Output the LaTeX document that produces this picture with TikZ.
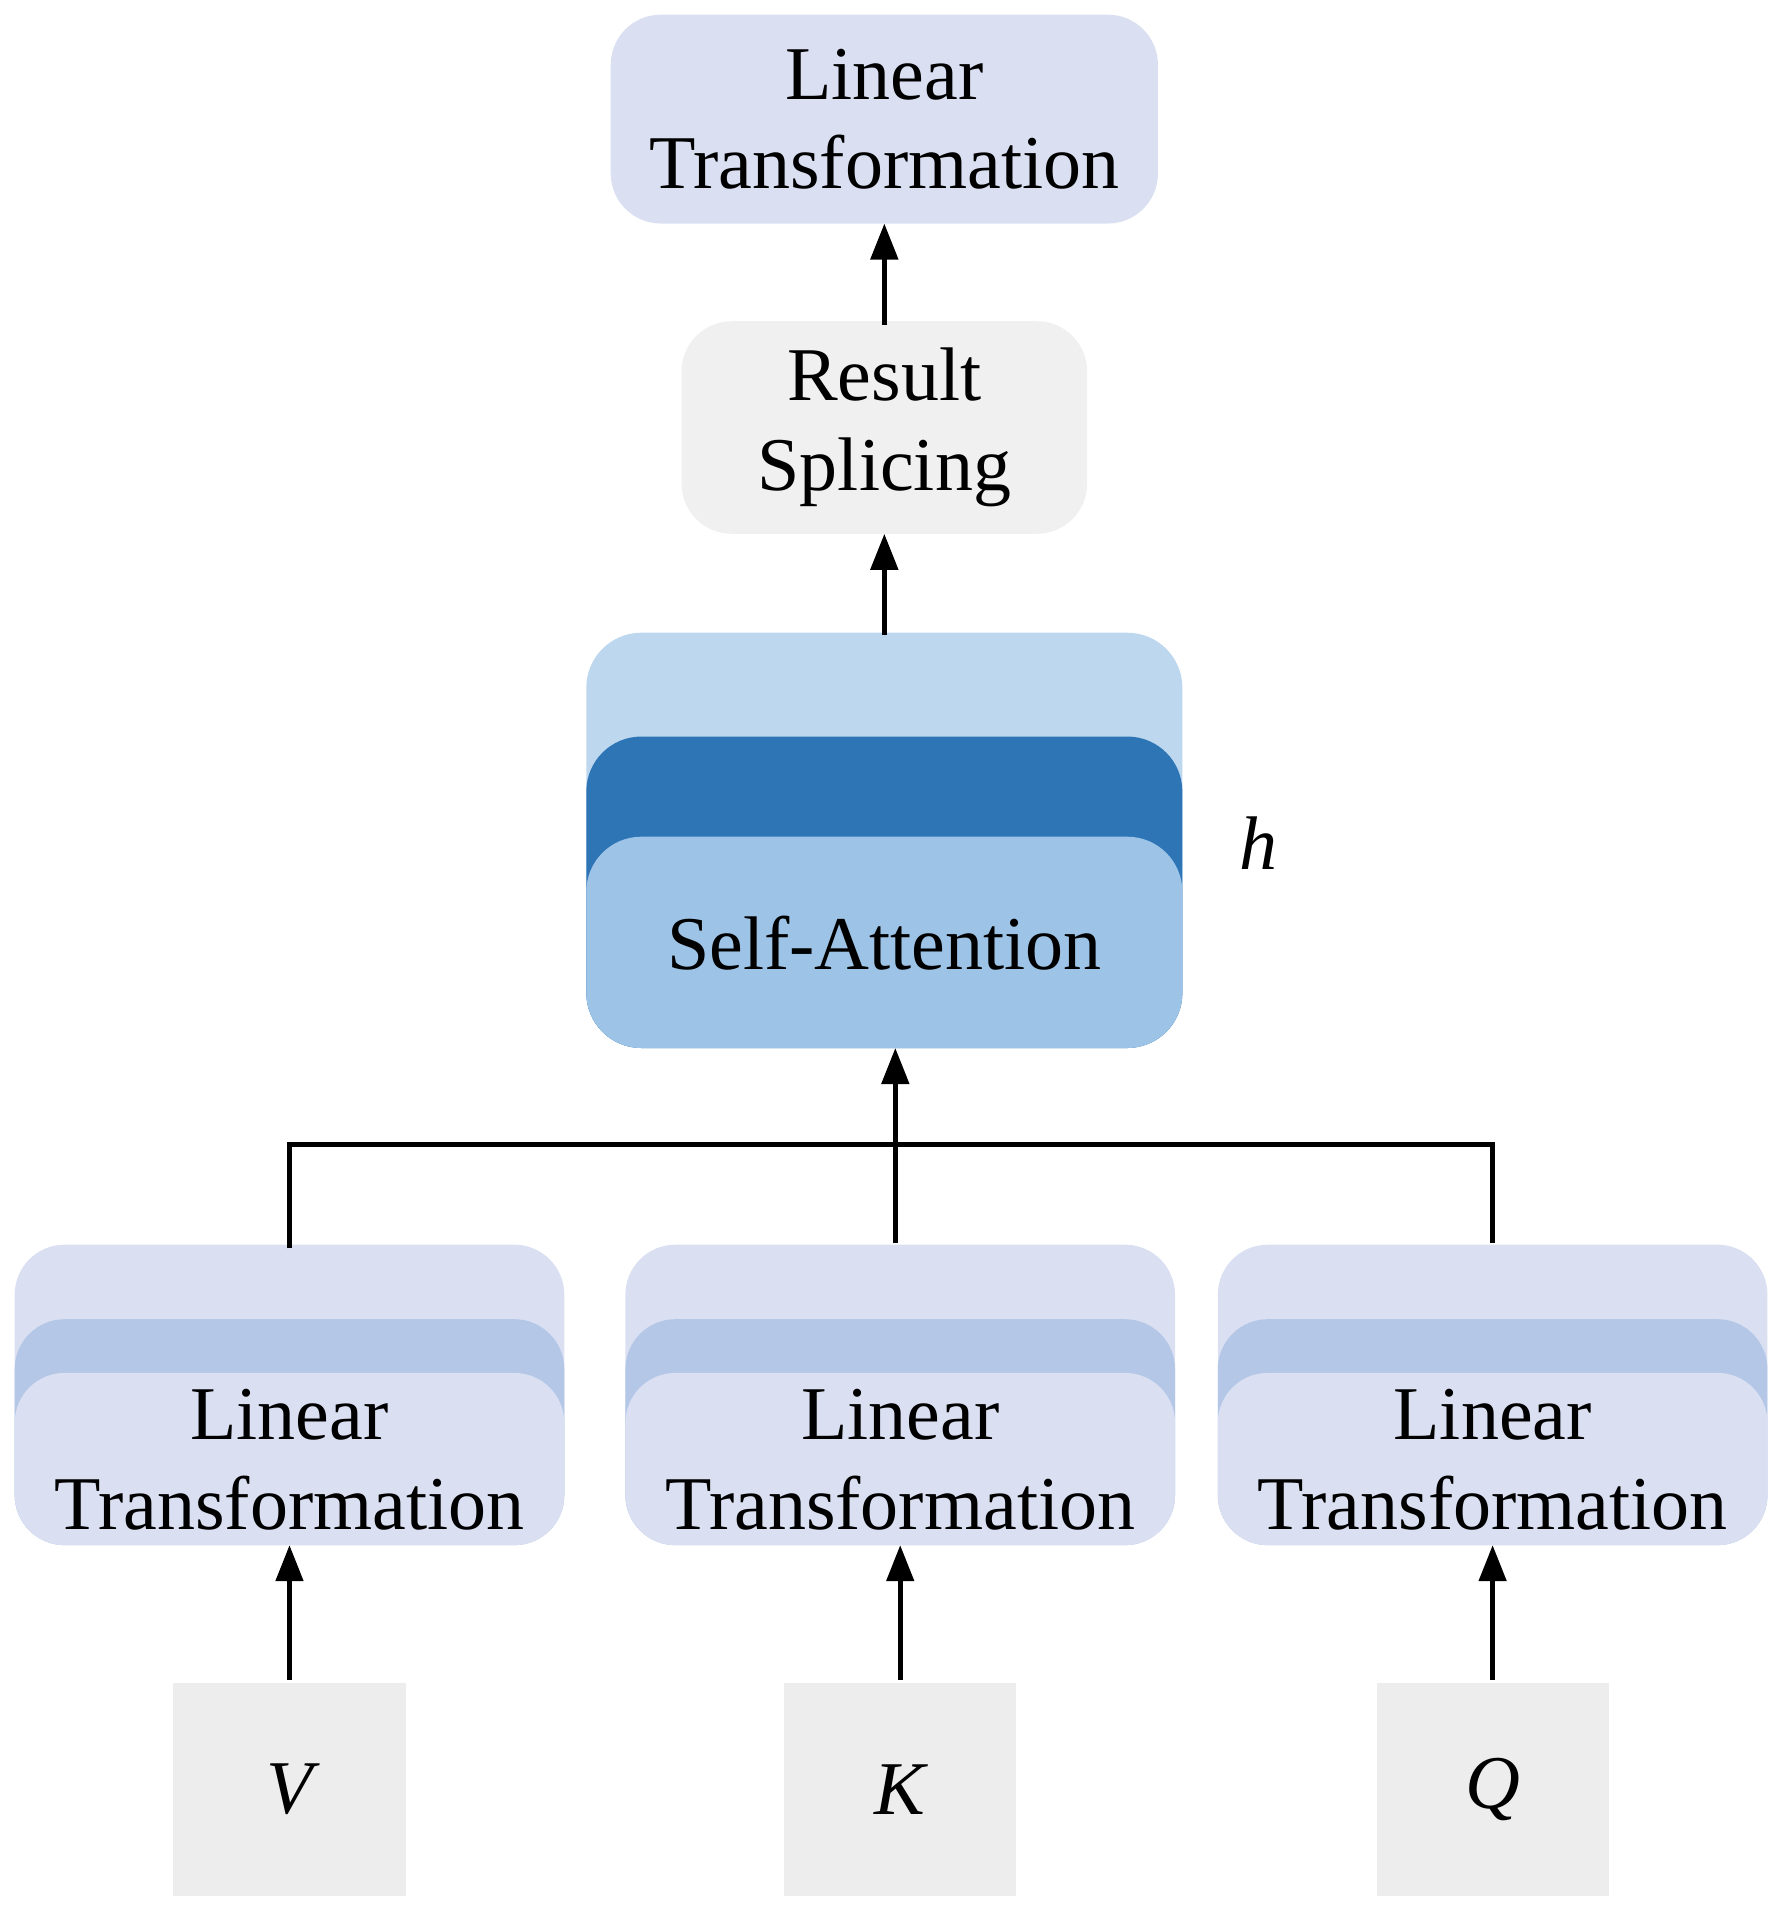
\documentclass[tikz,border=0pt]{standalone}
\usepackage{fontspec}
\setmainfont{Liberation Serif}
\usetikzlibrary{arrows.meta}
\def\U{0.01221}
\begin{document}
\begin{tikzpicture}[x=0.01221cm,y=-0.01221cm,
  txt/.style={font=\fontsize{21.6}{25.5}\selectfont, align=center, inner sep=0},
  lay/.style={rounded corners=0.5cm},
  arr/.style={line width=1.4pt,-{Triangle[length=0.36cm,width=0.27cm]}},
  ln/.style={line width=1.4pt}]
\useasboundingbox (0,0) rectangle (1466,1576);
\definecolor{lav}{HTML}{DAE0F2}
\definecolor{lav2}{HTML}{B4C7E7}
\definecolor{grayb}{HTML}{F0F0F0}
\definecolor{grayc}{HTML}{EDEDED}
\definecolor{sa1}{HTML}{BDD7EE}
\definecolor{sa2}{HTML}{2E75B6}
\definecolor{sa3}{HTML}{9DC3E6}
% top
\fill[lav,lay] (500,12) rectangle (948,183);
\node[txt] (top) at (724,97.5) {Linear\\Transformation};
\coordinate (topb) at (724,183);
\fill[grayb,lay] (558,263) rectangle (890,437);
\node[txt] (rs) at (724,350) {Result\\Splicing};
\coordinate (rst) at (724,266);
\coordinate (rsb) at (724,437);
% self attention
\fill[sa1,rounded corners=0.55cm] (480,518) rectangle (968,858);
\fill[sa2,rounded corners=0.55cm] (480,603) rectangle (968,858);
\fill[sa3,rounded corners=0.55cm] (480,685) rectangle (968,858);
\node[txt] (sa) at (724,772) {Self-Attention};
\coordinate (sat) at (724,520);
\coordinate (sab) at (733,858);
\node[txt,font=\fontsize{21.6}{25.5}\selectfont\itshape] (h) at (1030,690) {h};
\draw[arr] (rst) -- (topb);
\draw[arr] (sat) -- (rsb);
% bottom stacks
\foreach \xl/\xr/\n/\lab/\bx in {12/462/a/V/142, 512/962/b/K/642, 997/1447/c/Q/1127}{
  \fill[lav,lay] (\xl,1019) rectangle (\xr,1265);
  \fill[lav2,lay] (\xl,1080) rectangle (\xr,1265);
  \fill[lav,lay] (\xl,1124) rectangle (\xr,1265);
  \fill[grayc] (\bx,1378) rectangle ({\bx+190},1552);
  \node[txt] (lt\n) at ({(\xl+\xr)/2},1195) {Linear\\Transformation};
  \node[txt,font=\fontsize{21.6}{25.5}\selectfont\itshape] (in\n) at ({\bx+95},1465) {\lab};
}
\coordinate (ja) at (237,1022); \coordinate (jb) at (733,1018); \coordinate (jc) at (1222,1018);
\coordinate (ha) at (237,937); \coordinate (hb) at (733,937); \coordinate (hc) at (1222,937);
\draw[ln] (ja) -- (ha) -- (hc) -- (jc);
\draw[ln] (jb) -- (hb);
\draw[arr] (hb) -- (sab);
\foreach \x/\n in {237/a,737/b,1222/c}{
  \coordinate (s\n) at (\x,1375); \coordinate (e\n) at (\x,1265);
  \draw[arr] (s\n) -- (e\n);
}
\end{tikzpicture}
\end{document}
